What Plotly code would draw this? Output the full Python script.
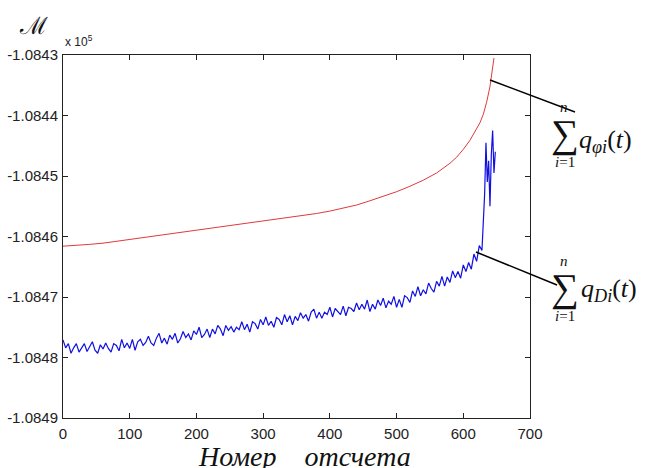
import plotly.graph_objects as go

# ---- data ----
red_x = [0, 20, 40, 60, 80, 100, 120, 140, 160, 180, 200, 220, 240, 260, 280, 300,
         320, 340, 360, 380, 400, 420, 440, 460, 480, 500, 520, 540, 560, 580, 590,
         600, 610, 620, 625, 630, 635, 640, 643, 646]
red_y = [-108461.6, -108461.5, -108461.3, -108461.1, -108460.8, -108460.5, -108460.2,
         -108459.9, -108459.6, -108459.3, -108459.0, -108458.7, -108458.4, -108458.1,
         -108457.8, -108457.5, -108457.2, -108456.9, -108456.6, -108456.2, -108455.8,
         -108455.3, -108454.8, -108454.1, -108453.4, -108452.6, -108451.7, -108450.7,
         -108449.5, -108447.9, -108446.9, -108445.6, -108444.1, -108442.3, -108441.2,
         -108439.8, -108437.8, -108435.2, -108433.0, -108430.5]

blue_x = list(range(0, 629, 4)) + list(range(630, 649, 2))
blue_y = [
    -108477.1, -108478.4, -108477.7, -108479.3, -108478.4, -108477.7, -108479.1, -108478.4,
    -108477.7, -108479.0, -108478.1, -108477.4, -108478.8, -108479.3, -108477.9, -108478.6,
    -108477.6, -108478.5, -108479.1, -108477.7, -108478.0, -108478.9, -108477.0, -108478.4,
    -108477.6, -108478.5, -108477.0, -108478.8, -108477.4, -108477.0, -108478.0, -108477.5,
    -108476.5, -108477.6, -108478.0, -108476.8, -108476.0, -108477.6, -108476.8, -108477.8,
    -108476.3, -108477.0, -108476.0, -108477.6, -108476.9, -108475.7, -108476.7, -108476.1,
    -108477.1, -108475.6, -108476.2, -108475.0, -108476.7, -108476.2, -108475.3, -108476.7,
    -108475.3, -108476.1, -108474.7, -108475.3, -108476.4, -108474.7, -108475.5, -108474.9,
    -108475.8, -108475.0, -108475.4, -108474.1, -108475.4, -108474.5, -108475.8, -108474.1,
    -108474.4, -108475.3, -108473.7, -108474.6, -108473.3, -108474.7, -108474.0, -108475.0,
    -108473.4, -108473.7, -108474.6, -108472.9, -108474.1, -108473.1, -108474.6, -108473.2,
    -108473.9, -108472.6, -108473.5, -108472.9, -108474.0, -108472.5, -108472.0, -108473.5,
    -108472.5, -108473.5, -108472.5, -108472.9, -108471.7, -108473.3, -108471.9, -108472.5,
    -108472.9, -108471.5, -108473.1, -108471.7, -108471.9, -108472.4, -108471.0, -108472.1,
    -108471.2, -108472.0, -108470.5, -108472.4, -108471.2, -108472.0, -108470.5, -108471.4,
    -108470.2, -108471.8, -108470.7, -108471.2, -108469.9, -108471.7, -108470.4, -108471.7,
    -108469.8, -108470.1, -108470.9, -108469.0, -108469.9, -108468.3, -108469.8, -108468.8,
    -108469.5, -108467.7, -108468.6, -108469.2, -108467.4, -108468.2, -108466.6, -108468.2,
    -108466.7, -108467.6, -108465.7, -108466.8, -108465.8, -108466.9, -108464.7, -108465.8,
    -108464.3, -108465.4, -108462.9, -108464.1, -108461.5, -108462.3,
    -108458.5, -108453.0, -108444.5, -108451.0, -108447.5, -108455.0, -108446.5, -108442.5,
    -108449.5, -108446.0,
]

y_tickvals = [-108490, -108480, -108470, -108460, -108450, -108440, -108430]
y_ticktext = ["-1.0849", "-1.0848", "-1.0847", "-1.0846", "-1.0845", "-1.0844", "-1.0843"]
x_tickvals = [0, 100, 200, 300, 400, 500, 600, 700]

# ---- figure ----
W, H = 651, 468
L, R, T, B = 63, 121, 55, 50
pw, ph = W - L - R, H - T - B

def px(xp):
    return (xp - L) / pw

def py(yp):
    return (H - B - yp) / ph

TICKFONT = dict(family="Liberation Sans Narrow, Liberation Sans, Arial", size=15, color="#222")

fig = go.Figure()
fig.add_trace(go.Scatter(x=red_x, y=red_y, mode="lines",
                         line=dict(color="#e0393e", width=1)))
fig.add_trace(go.Scatter(x=blue_x, y=blue_y, mode="lines",
                         line=dict(color="#1010e0", width=1.2)))

axis_common = dict(showgrid=False, zeroline=False, showline=True, linecolor="#222",
                   linewidth=1, mirror="ticks", ticks="inside", ticklen=5,
                   tickcolor="#222", tickfont=TICKFONT, automargin=False)

fig.update_layout(
    width=W, height=H, margin=dict(l=L, r=R, t=T, b=B),
    paper_bgcolor="white", plot_bgcolor="white", showlegend=False,
    xaxis=dict(range=[0, 700], tickvals=x_tickvals, ticklabelstandoff=2, **axis_common),
    yaxis=dict(range=[-108490, -108430], tickvals=y_tickvals, ticktext=y_ticktext,
               ticklabelstandoff=1, **axis_common),
)

def A(text, x, y, size, family="Liberation Serif", xanchor="center", yanchor="middle", color="#111"):
    return dict(text=text, x=px(x), y=py(y), xref="paper", yref="paper",
                xanchor=xanchor, yanchor=yanchor, showarrow=False,
                font=dict(family=family, size=size, color=color))

ann = []
ann.append(A("<i>Номер\u00a0\u00a0\u00a0\u00a0отсчета</i>", 304, 456, 28))
ann.append(A("ℳ", 33, 26, 24, family="DejaVu Serif"))
ann.append(A("x 10<sup>5</sup>", 63, 41, 12, family="Liberation Sans", xanchor="left", color="#222"))

def formula(sx, sy, sub, qx, qy):
    out = []
    out.append(A("∑", sx, sy, 39))
    out.append(A("<i>n</i>", sx - 1, sy - 27, 15))
    out.append(A("<i>i</i>=1", sx, sy + 28, 15))
    out.append(A("<i>q</i><sub><i>" + sub + "</i></sub>(<i>t</i>)", qx, qy, 26, xanchor="left"))
    return out

ann += formula(565, 134, "φi", 577, 141)
ann += formula(565, 288, "Di", 579, 290)
fig.update_layout(annotations=ann)

fig.add_shape(type="line", xref="paper", yref="paper", x0=px(490), y0=py(80), x1=px(575), y1=py(112),
              line=dict(color="black", width=1.5))
fig.add_shape(type="line", xref="paper", yref="paper", x0=px(476), y0=py(252), x1=px(557), y1=py(285),
              line=dict(color="black", width=1.5))

fig.write_html("out.html")
